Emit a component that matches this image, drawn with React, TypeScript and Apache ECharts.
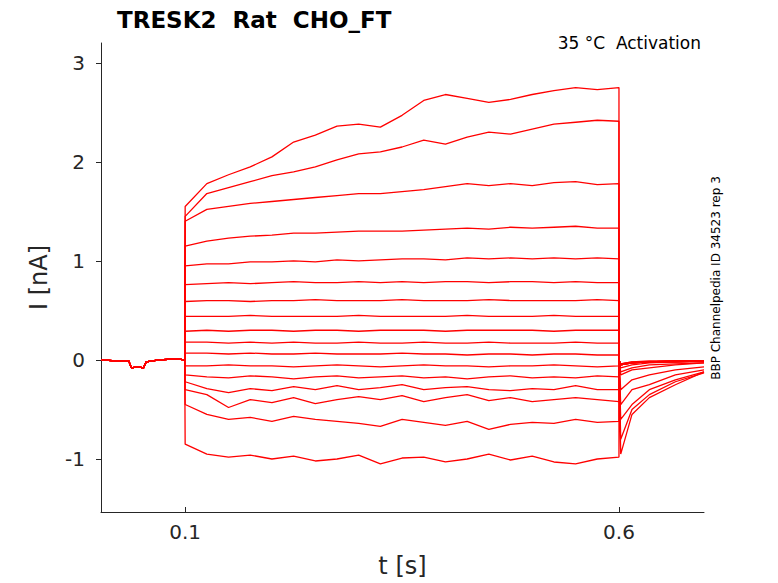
import React, { useEffect, useRef } from "react";
import * as echarts from "echarts";

// sample times during the pulse (s)
const pulseTimes = [0.1, 0.125, 0.15, 0.175, 0.2, 0.225, 0.25, 0.275, 0.3, 0.325, 0.35, 0.375, 0.4, 0.425, 0.45, 0.475, 0.5, 0.525, 0.55, 0.575, 0.6];

// currents during the pulse (nA), one array per trace
const pulseValues: number[][] = [
  [1.55, 1.78, 1.87, 1.95, 2.05, 2.2, 2.27, 2.36, 2.38, 2.35, 2.47, 2.62, 2.68, 2.64, 2.6, 2.63, 2.68, 2.72, 2.75, 2.73, 2.75],
  [1.45, 1.68, 1.74, 1.8, 1.86, 1.9, 1.95, 2.02, 2.08, 2.1, 2.15, 2.22, 2.18, 2.25, 2.3, 2.28, 2.33, 2.38, 2.4, 2.42, 2.41],
  [1.4, 1.52, 1.55, 1.58, 1.6, 1.62, 1.64, 1.66, 1.68, 1.68, 1.7, 1.72, 1.75, 1.78, 1.76, 1.78, 1.76, 1.79, 1.8, 1.77, 1.78],
  [1.15, 1.2, 1.23, 1.25, 1.26, 1.28, 1.28, 1.29, 1.3, 1.3, 1.3, 1.31, 1.32, 1.33, 1.32, 1.34, 1.33, 1.34, 1.35, 1.33, 1.33],
  [0.95, 0.97, 0.97, 0.99, 0.99, 1.0, 0.99, 1.01, 1.0, 1.01, 1.02, 1.02, 1.01, 1.03, 1.02, 1.03, 1.02, 1.03, 1.02, 1.03, 1.02],
  [0.76, 0.77, 0.78, 0.77, 0.78, 0.79, 0.78, 0.78, 0.79, 0.78, 0.79, 0.78, 0.79, 0.79, 0.78, 0.79, 0.79, 0.78, 0.79, 0.78, 0.78],
  [0.59, 0.6, 0.6, 0.59, 0.6, 0.6, 0.61, 0.6, 0.6, 0.6, 0.61, 0.6, 0.6, 0.6, 0.61, 0.6, 0.6, 0.6, 0.6, 0.61, 0.6],
  [0.44, 0.44, 0.44, 0.45, 0.44, 0.44, 0.44, 0.44, 0.45, 0.44, 0.44, 0.44, 0.44, 0.45, 0.44, 0.44, 0.44, 0.45, 0.44, 0.44, 0.44],
  [0.29, 0.3, 0.29, 0.3, 0.3, 0.29, 0.3, 0.3, 0.29, 0.3, 0.3, 0.3, 0.29, 0.3, 0.3, 0.3, 0.3, 0.29, 0.3, 0.3, 0.3],
  [0.18, 0.18, 0.17, 0.18, 0.17, 0.18, 0.17, 0.17, 0.18, 0.17, 0.17, 0.18, 0.17, 0.17, 0.18, 0.17, 0.17, 0.17, 0.18, 0.17, 0.17],
  [0.07, 0.07, 0.06, 0.07, 0.06, 0.06, 0.07, 0.06, 0.06, 0.06, 0.07, 0.06, 0.06, 0.05, 0.06, 0.06, 0.05, 0.06, 0.06, 0.05, 0.05],
  [-0.06, -0.06, -0.05, -0.06, -0.06, -0.07, -0.06, -0.05, -0.06, -0.07, -0.06, -0.05, -0.06, -0.06, -0.07, -0.06, -0.06, -0.05, -0.06, -0.07, -0.06],
  [-0.15, -0.17, -0.18, -0.16, -0.17, -0.19, -0.17, -0.16, -0.18, -0.17, -0.16, -0.18, -0.17, -0.19, -0.17, -0.16, -0.18, -0.17, -0.18, -0.16, -0.17],
  [-0.22, -0.29, -0.33, -0.29, -0.31, -0.27, -0.3, -0.26, -0.3, -0.28, -0.25, -0.3, -0.28, -0.27, -0.3, -0.31, -0.29, -0.3, -0.26, -0.3, -0.3],
  [-0.3, -0.35, -0.48, -0.4, -0.43, -0.38, -0.44, -0.4, -0.37, -0.4, -0.36, -0.42, -0.38, -0.35, -0.41, -0.38, -0.42, -0.4, -0.38, -0.4, -0.42],
  [-0.45, -0.55, -0.6, -0.58, -0.62, -0.57, -0.6, -0.62, -0.64, -0.67, -0.6, -0.63, -0.66, -0.62, -0.7, -0.65, -0.63, -0.64, -0.6, -0.63, -0.62],
  [-0.85, -0.95, -0.98, -0.96, -1.0, -0.97, -1.02, -1.0, -0.96, -1.05, -0.99, -0.98, -1.03, -1.0, -0.95, -1.01, -0.97, -1.03, -1.05, -1.0, -0.98],
];

// holding current before the pulse (shared by all traces)
const baseTimes = [0.003, 0.02, 0.035, 0.038, 0.045, 0.052, 0.055, 0.07, 0.09, 0.0995];
const baseValues = [0.0, -0.01, -0.01, -0.08, -0.07, -0.08, -0.02, 0.0, 0.01, 0.0];

// tail currents after the pulse
const tailTimes = [0.602, 0.615, 0.635, 0.665, 0.698];
const tailValues: number[][] = [
  [-0.05, -0.03, -0.02, -0.02, -0.01],
  [-0.05, -0.03, -0.02, -0.02, -0.01],
  [-0.05, -0.03, -0.02, -0.02, -0.01],
  [-0.05, -0.03, -0.02, -0.01, -0.01],
  [-0.04, -0.03, -0.02, -0.01, -0.01],
  [-0.04, -0.03, -0.02, -0.01, -0.01],
  [-0.04, -0.02, -0.02, -0.01, -0.01],
  [-0.04, -0.02, -0.01, -0.01, -0.01],
  [-0.05, -0.03, -0.02, -0.02, -0.01],
  [-0.08, -0.05, -0.03, -0.02, -0.02],
  [-0.12, -0.08, -0.05, -0.04, -0.03],
  [-0.15, -0.1, -0.08, -0.05, -0.03],
  [-0.3, -0.2, -0.15, -0.1, -0.07],
  [-0.45, -0.3, -0.25, -0.15, -0.1],
  [-0.6, -0.45, -0.3, -0.2, -0.12],
  [-0.8, -0.5, -0.35, -0.22, -0.13],
  [-0.95, -0.55, -0.38, -0.25, -0.12],
];

const xTicks = [0.1, 0.6];
const yTicks = [-1, 0, 1, 2, 3];

const font = "DejaVu Sans";

const App: React.FC = () => {
  const chartRef = useRef<HTMLDivElement>(null);

  useEffect(() => {
    if (!chartRef.current) return;
    const chart = echarts.init(chartRef.current, undefined, { renderer: "svg" });

    const series = pulseValues.map((vals, i) => {
      const data: number[][] = [];
      baseTimes.forEach((t, k) => data.push([t, baseValues[k]]));
      data.push([0.1, 0]);
      pulseTimes.forEach((t, k) => data.push([t, vals[k]]));
      data.push([0.6, 0]);
      tailTimes.forEach((t, k) => data.push([t, tailValues[i][k]]));
      return {
        type: "line" as const,
        data,
        symbol: "none",
        lineStyle: { color: "#ff0000", width: 1.3 },
        silent: true,
      };
    });

    chart.setOption({
      animation: false,
      grid: { left: 101, right: 74, top: 43, bottom: 70 },
      title: [
        {
          text: "TRESK2  Rat  CHO_FT",
          left: 112,
          top: 3,
          textStyle: { fontFamily: font, fontSize: 23, fontWeight: "bold", color: "#000" },
        },
        {
          text: "35 °C  Activation",
          right: 72,
          top: 29,
          textStyle: { fontFamily: font, fontSize: 17, fontWeight: "normal", color: "#000" },
        },
      ],
      graphic: [
        {
          type: "text",
          x: 716,
          y: 278,
          rotation: Math.PI / 2,
          style: {
            text: "BBP Channelpedia ID 34523 rep 3",
            fontFamily: font,
            fontSize: 12,
            fill: "#000",
            align: "center",
            verticalAlign: "middle",
          },
        },
      ],
      xAxis: {
        type: "value",
        min: 0.003,
        max: 0.698,
        name: "t [s]",
        nameLocation: "middle",
        nameGap: 42,
        nameTextStyle: { fontFamily: font, fontSize: 24, color: "#262626" },
        axisLine: { onZero: false, lineStyle: { color: "#262626" } },
        axisTick: { inside: true, customValues: xTicks, length: 5, lineStyle: { color: "#262626" } },
        axisLabel: { customValues: xTicks, fontFamily: font, fontSize: 20, color: "#262626", margin: 10 },
        splitLine: { show: false },
      },
      yAxis: {
        type: "value",
        min: -1.535,
        max: 3.2,
        name: "I [nA]",
        nameLocation: "middle",
        nameGap: 50,
        nameTextStyle: { fontFamily: font, fontSize: 24, color: "#262626" },
        axisLine: { show: true, onZero: false, lineStyle: { color: "#262626" } },
        axisTick: { show: true, inside: false, customValues: yTicks, length: 5, lineStyle: { color: "#262626" } },
        axisLabel: { customValues: yTicks, fontFamily: font, fontSize: 20, color: "#262626", margin: 16 },
        splitLine: { show: false },
      },
      series,
    });

    return () => chart.dispose();
  }, []);

  return (
    <div
      ref={chartRef}
      style={{ position: "absolute", left: 0, top: 0, width: 778, height: 583, background: "#fff" }}
    />
  );
};

export default App;
